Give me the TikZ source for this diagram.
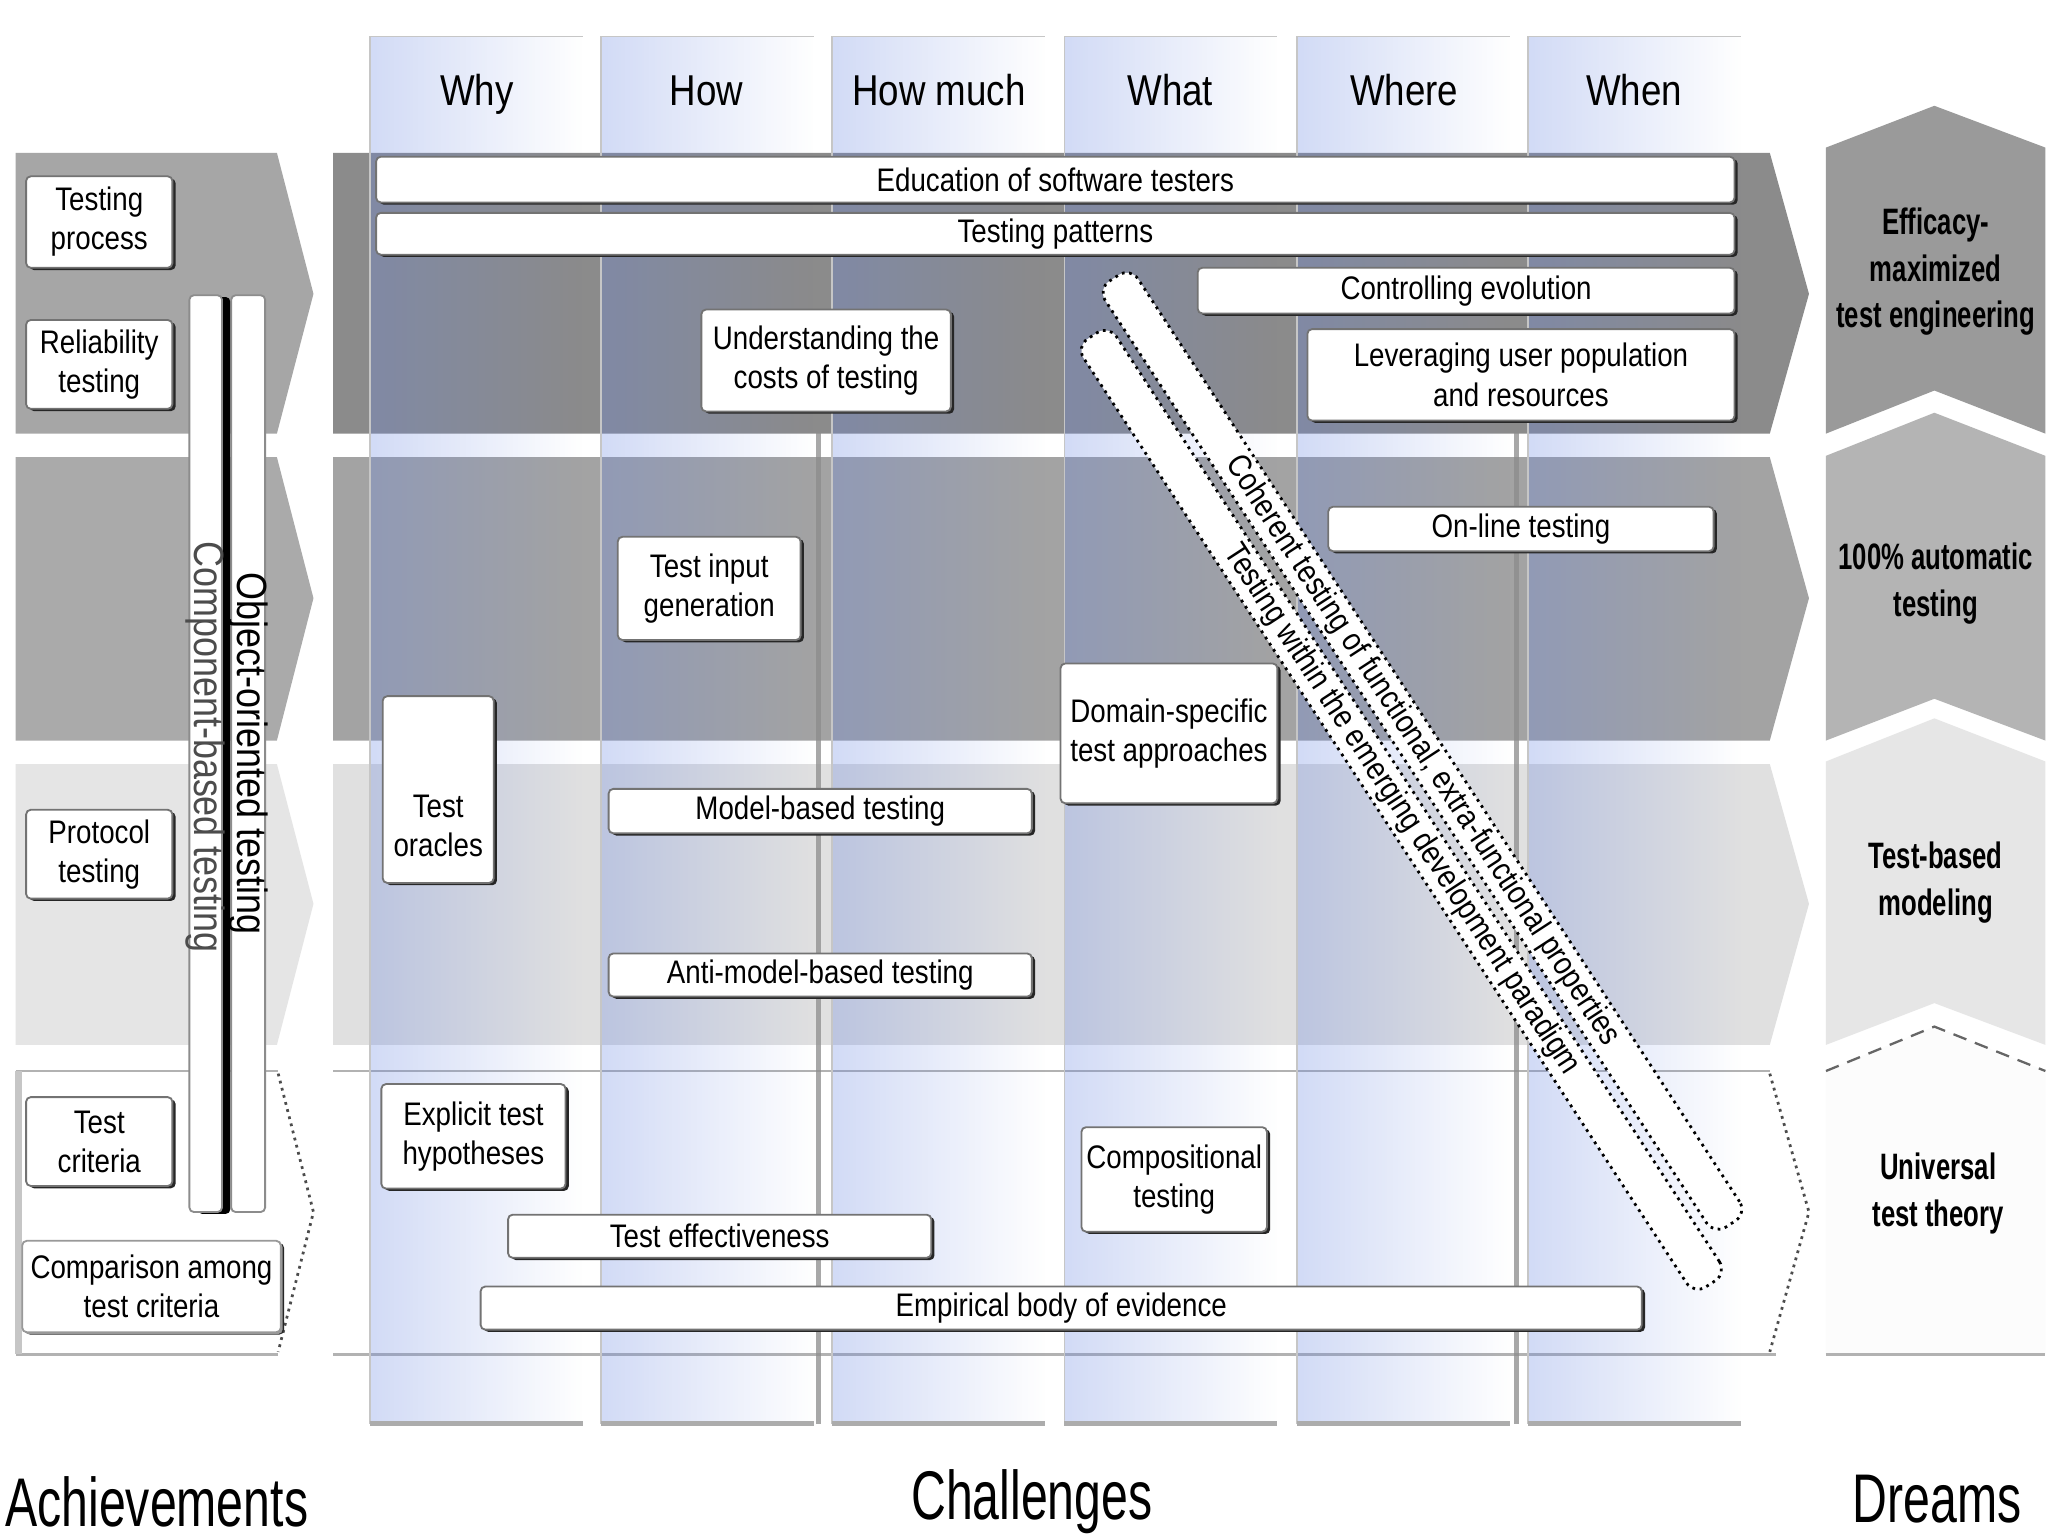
\documentclass[tikz,border=0pt]{standalone}
\usepackage{fontspec}
\setmainfont{Liberation Sans}
\newfontfamily\nrwfam[FakeStretch=0.85]{Liberation Sans}
\newfontfamily\cndfam[FakeStretch=0.7]{Liberation Sans}
\usetikzlibrary{shadows,fadings}
\newcommand\bxfont{\nrwfam\fontsize{7.1}{8.5}\selectfont}
\newcommand\hdfont{\nrwfam\fontsize{9.4}{11}\selectfont}
\newcommand\drfont{\cndfam\bfseries\fontsize{8}{10.2}\selectfont}
\newcommand\bgfont{\cndfam\fontsize{15}{18}\selectfont}
\newcommand\vbfont{\nrwfam\fontsize{9.2}{11}\selectfont}
\definecolor{mbA}{HTML}{8B8B8B}
\definecolor{mbB}{HTML}{A3A3A3}
\definecolor{mbC}{HTML}{E0E0E0}
\definecolor{lbA}{HTML}{A6A6A6}
\definecolor{lbB}{HTML}{AAAAAA}
\definecolor{lbC}{HTML}{E5E5E5}
\definecolor{dbA}{HTML}{9A9A9A}
\definecolor{dbB}{HTML}{B4B4B4}
\definecolor{dbC}{HTML}{E6E6E6}
\definecolor{dbD}{HTML}{FCFCFC}
\definecolor{colblue}{RGB}{105,135,225}
\tikzfading[name=colfade, left color=transparent!0, right color=transparent!100]
\begin{document}
\begin{tikzpicture}[x=0.01cm, y=-0.01cm,
  span/.style args={#1/#2/#3/#4}{minimum width={(#3-(#1))*0.01cm},
    minimum height={(#4-(#2))*0.01cm}, at={({(#1+#3)/2},{(#2+#4)/2})}},
  box/.style={draw=black!55, line width=0.4pt, fill=white, rounded corners=1pt,
    inner sep=0pt, align=center, font=\bxfont,
    drop shadow={shadow xshift=0.7pt, shadow yshift=-0.5pt, fill=black!85, opacity=1}},
  vbar/.style={draw=black!45, line width=0.4pt, fill=white, rounded corners=1pt, inner sep=0pt},
  vbtxt/.style={font=\vbfont, inner sep=0pt},
  diagbar/.style={draw=black, densely dotted, line width=0.6pt, fill=white,
    rounded corners=3pt, inner sep=0pt, font=\bxfont},
  hdr/.style={font=\hdfont, inner sep=0pt, anchor=base},
  dream/.style={font=\drfont, align=center, inner sep=0pt},
  biglab/.style={font=\bgfont, inner sep=0pt},
  gapline/.style={black!45, line width=1.1pt, opacity=0.75},
  bandline/.style={gray!60, line width=0.5pt}
]
\useasboundingbox (0,0) rectangle (1568,1176);
\fill[white] (0,0) rectangle (1568,1176);

% ---------- achievement bands ----------
\fill[lbA] (12,117) -- (212,117) -- (240,225) -- (212,332) -- (12,332) -- cycle;
\fill[lbB] (12,350) -- (212,350) -- (240,458) -- (212,567) -- (12,567) -- cycle;
\fill[lbC] (12,585) -- (212,585) -- (240,692) -- (212,800) -- (12,800) -- cycle;
\draw[bandline] (12,820) -- (213,820);
\draw[bandline] (12,1037) -- (213,1037);
\draw[gray!45, line width=1.4pt] (14,820) -- (14,1037);
\draw[black!70, densely dotted, line width=0.6pt] (213,822) -- (240,928) -- (213,1035);

% ---------- challenge bands ----------
\fill[mbA] (255,117) -- (1355,117) -- (1385,225) -- (1355,332) -- (255,332) -- cycle;
\fill[mbB] (255,350) -- (1355,350) -- (1385,458) -- (1355,567) -- (255,567) -- cycle;
\fill[mbC] (255,585) -- (1355,585) -- (1385,692) -- (1355,800) -- (255,800) -- cycle;
\draw[bandline] (255,820) -- (1355,820);
\draw[bandline] (255,1037) -- (1360,1037);
\draw[black!70, densely dotted, line width=0.6pt] (1355,822) -- (1385,928) -- (1355,1035);

% ---------- dream bands ----------
\fill[dbA] (1398,113) -- (1481,81) -- (1566,113) -- (1566,332) -- (1481,299) -- (1398,332) -- cycle;
\fill[dbB] (1398,349) -- (1481,316) -- (1566,349) -- (1566,567) -- (1481,535) -- (1398,567) -- cycle;
\fill[dbC] (1398,583) -- (1481,550) -- (1566,583) -- (1566,800) -- (1481,768) -- (1398,800) -- cycle;
\fill[dbD] (1398,820) -- (1481,786) -- (1566,820) -- (1566,1037) -- (1398,1037) -- cycle;
\draw[black!60, densely dashed, line width=0.5pt] (1398,820) -- (1481,786) -- (1566,820);
\draw[bandline] (1398,1037) -- (1566,1037);

% ---------- columns ----------
\foreach \xa in {283,460,637,815,993,1170} {
  \fill[colblue, fill opacity=0.3, path fading=colfade, fit fading=true]
    (\xa,28) rectangle (\xa+163,1090);
  \draw[gray!45, line width=0.4pt] (\xa,1090) -- (\xa,28) -- (\xa+163,28);
  \draw[gray!65, line width=1pt] (\xa,1090) -- (\xa+163,1090);
}
\draw[gapline] (627,195) -- (627,1090);
\draw[gapline] (1161,240) -- (1161,1090);

% ---------- column headers ----------
\node[hdr] (hwhy) at (365,81) {Why};
\node[hdr] (hhow) at (541,81) {How};
\node[hdr] (hmuch) at (719,81) {How much};
\node[hdr] (hwhat) at (896,81) {What};
\node[hdr] (hwhere) at (1075,81) {Where};
\node[hdr] (hwhen) at (1251,81) {When};

% ---------- achievements ----------
\node[vbar, span=145/226/170/928,
  drop shadow={shadow xshift=1.8pt, shadow yshift=-0.4pt, fill=black, opacity=1}] (cbbar) {};
\node[vbar, span=177/226/203/928] (oobar) {};
\node[vbtxt, rotate=-90, text=black!70] (cbtxt) at (157.5,572) {Component-based testing};
\node[vbtxt, rotate=-90] (ootxt) at (190,577) {Object-oriented testing};

\node[box, span=20/135/132/205] (tproc) {Testing\\process};
\node[box, span=20/245/132/313] (relt) {Reliability\\testing};
\node[box, span=20/620/132/688] (prot) {Protocol\\testing};
\node[box, span=20/840/132/908] (tcrit) {Test\\criteria};
\node[box, draw=black!40, span=17/950/215/1020,
  drop shadow={shadow xshift=0.4pt, shadow yshift=-0.4pt, fill=black!40, opacity=1}] (cmpc) {Comparison among\\test criteria};

% ---------- challenges ----------
\node[box, span=288/120/1328/155] (edu) {Education of software testers};
\node[box, span=288/163/1328/195] (pat) {Testing patterns};
\node[box, span=917/205/1328/240] (ctl) {Controlling evolution};
\node[box, span=1001/252/1328/322] (lev) {Leveraging user population\\and resources};
\node[box, span=537/237/728/315] (cost) {Understanding the\\costs of testing};
\node[box, span=1017/388/1312/422] (onl) {On-line testing};
\node[box, span=473/411/613/490] (tig) {Test input\\generation};
\node[box, span=293/533/378/676] (orc) {};
\node[font=\bxfont, align=center, inner sep=0pt] (orctxt) at (335.5,632) {Test\\oracles};
\node[box, span=812/508/978/615] (dom) {Domain-specific\\test approaches};
\node[box, span=466/604/790/638] (mbt) {Model-based testing};
\node[box, span=466/730/790/763] (ambt) {Anti-model-based testing};
\node[box, span=292/830/433/910] (eth) {Explicit test\\hypotheses};
\node[box, span=828/863/970/943] (comp) {Compositional\\testing};
\node[box, span=389/930/713/963] (teff) {Test effectiveness};
\node[box, span=368/985/1257/1018] (emp) {Empirical body of evidence};

% ---------- transversal challenges ----------
\node[diagbar, minimum width=8.66cm, minimum height=0.30cm, rotate=-56.9] (emerg)
  at (1073,620) {Testing within the emerging development paradigm};
\node[diagbar, minimum width=8.64cm, minimum height=0.30cm, rotate=-56.9] (coh)
  at (1089,575) {Coherent testing of functional, extra-functional properties};

% ---------- dreams ----------
\node[dream] (d1) at (1482,208) {Efficacy-\\maximized\\test engineering};
\node[dream] (d2) at (1482,447) {100\% automatic\\testing};
\node[dream] (d3) at (1482,676) {Test-based\\modeling};
\node[dream] (d4) at (1484,914) {Universal\\test theory};

% ---------- bottom labels ----------
\node[biglab] (lach) at (120,1150) {Achievements};
\node[biglab] (lcha) at (790,1150) {Challenges};
\node[biglab] (ldre) at (1483,1148) {Dreams};
\end{tikzpicture}
\end{document}
